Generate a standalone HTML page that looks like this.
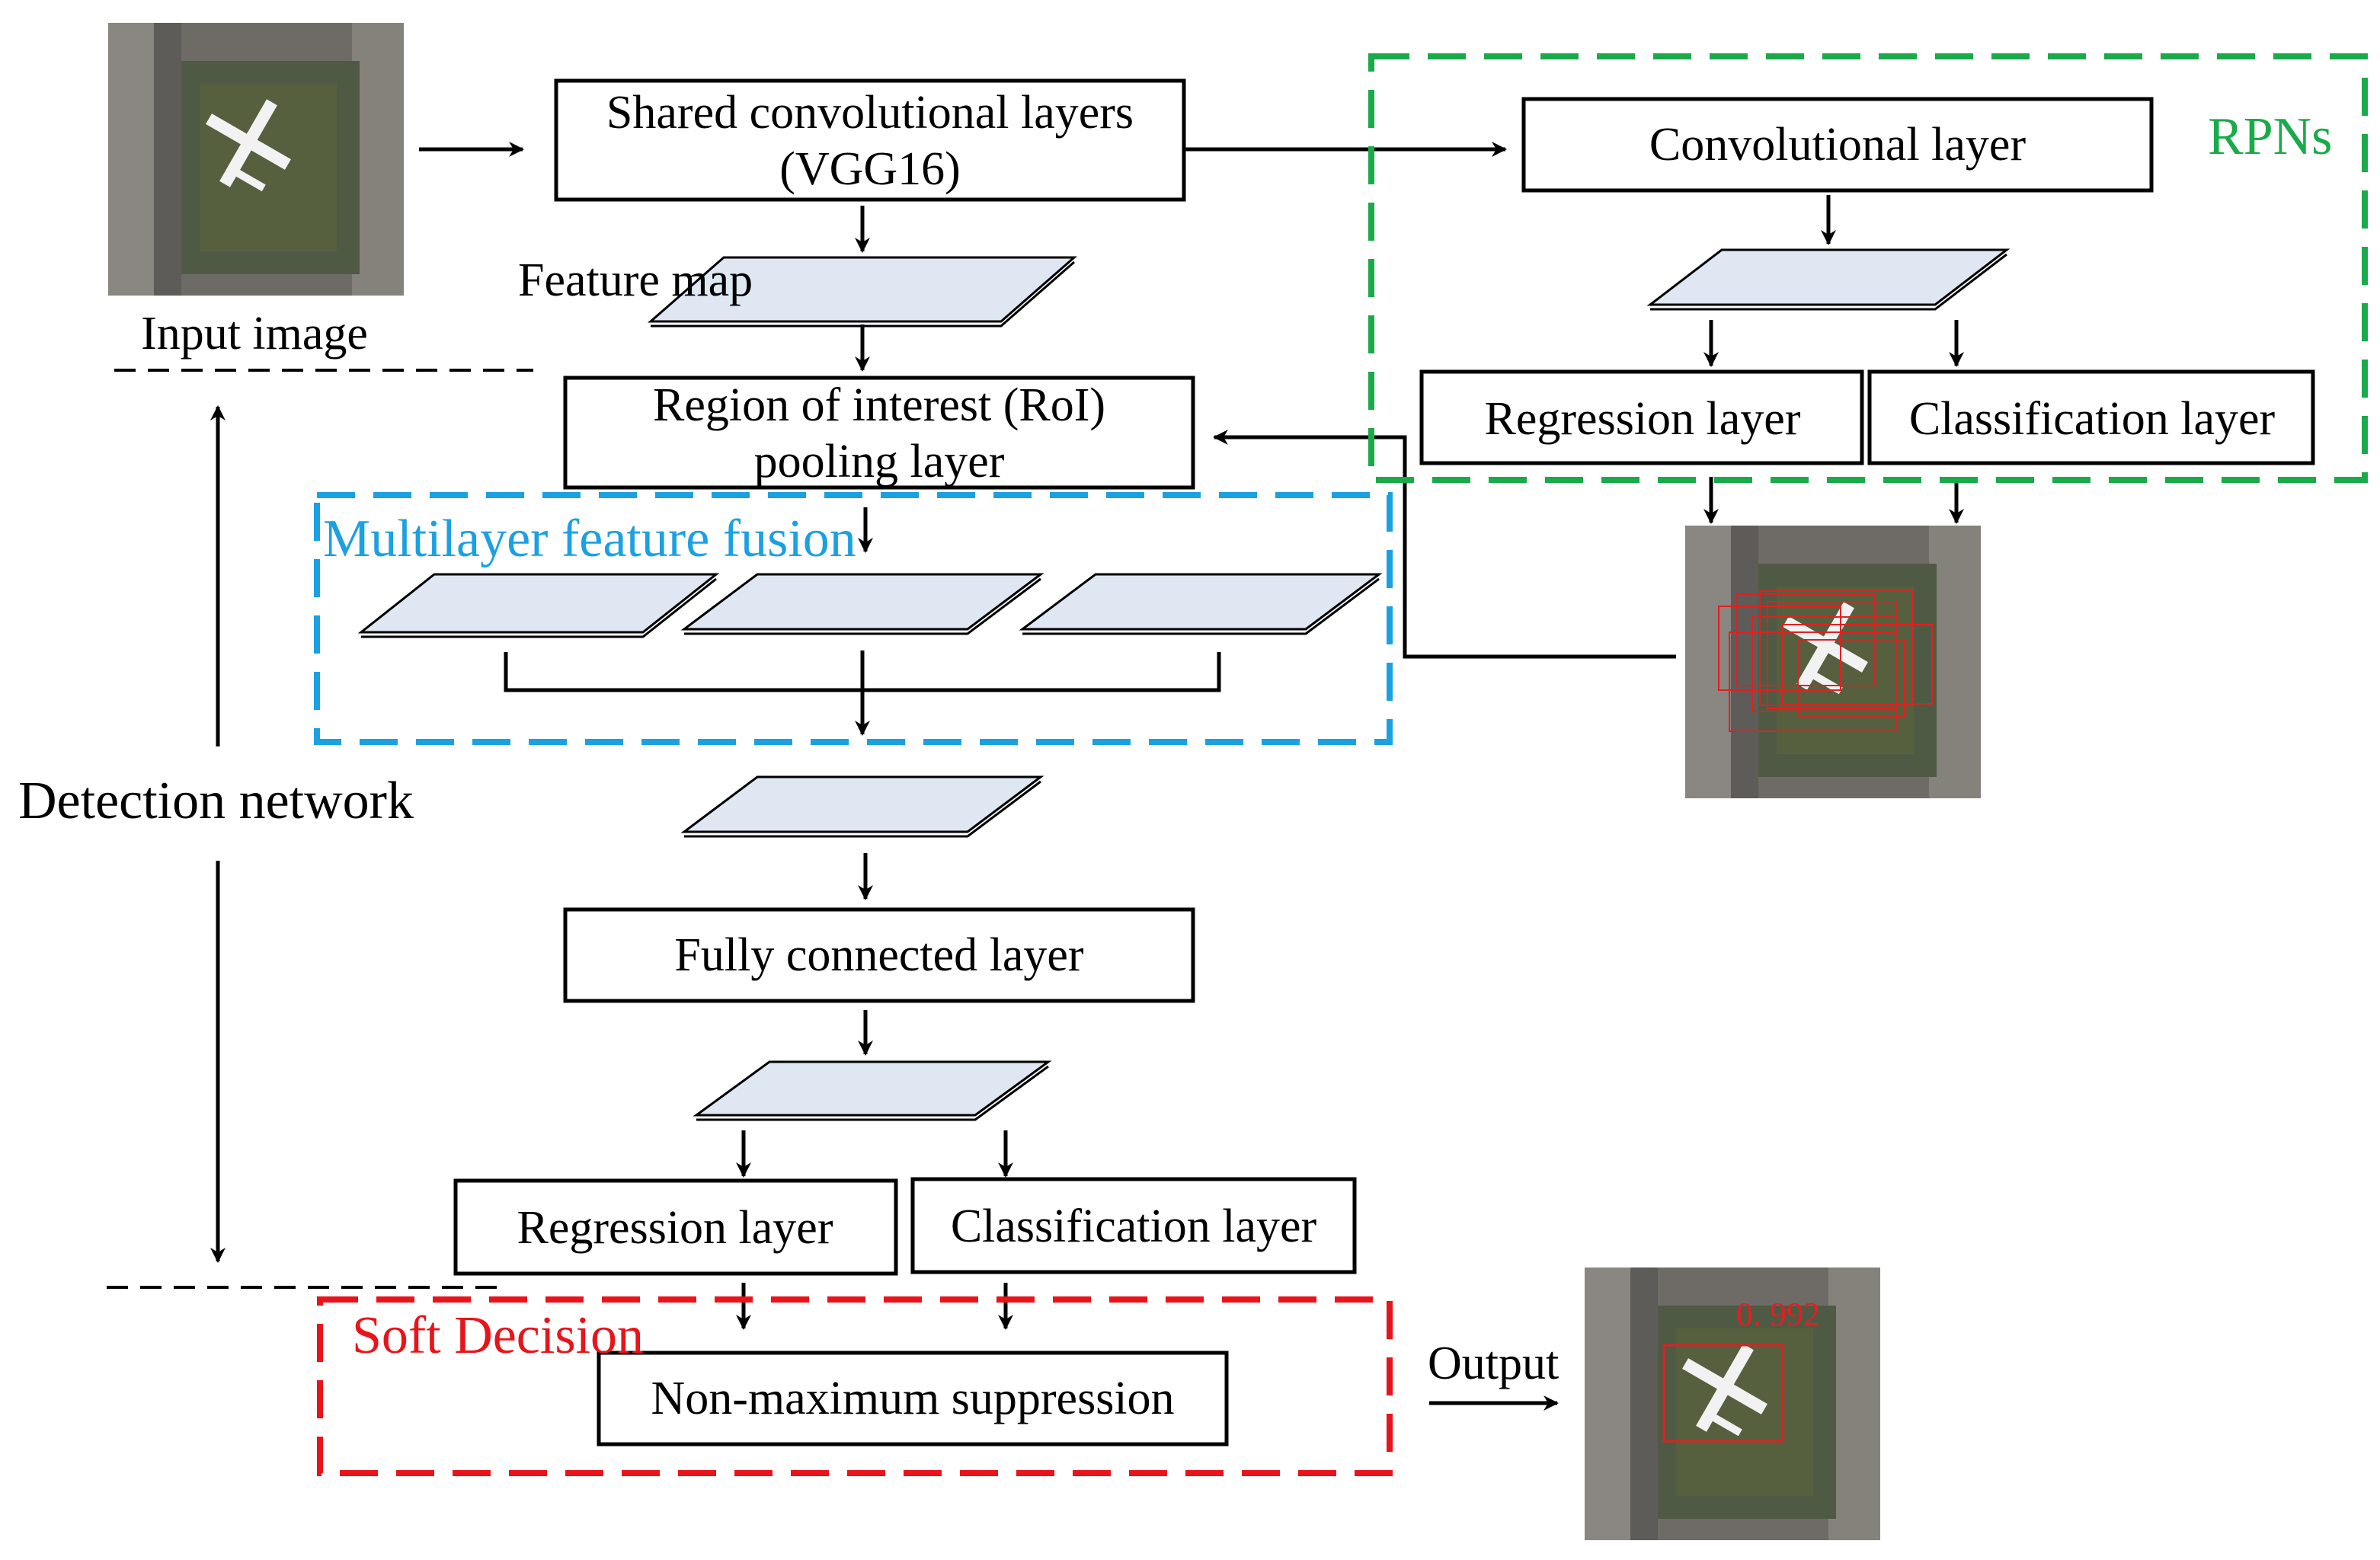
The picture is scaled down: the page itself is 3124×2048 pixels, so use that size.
<!DOCTYPE html>
<html><head><meta charset="utf-8"><style>
html,body{margin:0;padding:0;background:#fff;}
svg{display:block;}
text{font-family:"Liberation Serif",serif;}
</style></head><body>
<svg width="3124" height="2048" viewBox="0 0 1562 1024" xmlns="http://www.w3.org/2000/svg">
<defs>
<marker id="ah" markerWidth="10" markerHeight="10" refX="9" refY="5" orient="auto" markerUnits="userSpaceOnUse">
<path d="M0,0 L10,5 L0,10 L3,5 z" fill="#000"/></marker>
<g id="photo">
<rect x="0" y="0" width="194" height="179" fill="#6e6b66"/>
<rect x="0" y="0" width="30" height="179" fill="#8a8782"/>
<rect x="160" y="0" width="34" height="179" fill="#85827c"/>
<rect x="45" y="25" width="120" height="140" fill="#4f5a44"/>
<rect x="60" y="40" width="90" height="110" fill="#56603f"/>
<rect x="30" y="0" width="18" height="179" fill="#5e5c58"/>
<g fill="#f2f2f2"><rect x="88" y="48" width="8" height="62" transform="rotate(30 92 79)"/>
<rect x="62" y="74" width="60" height="8" transform="rotate(30 92 78)"/>
<rect x="80" y="100" width="24" height="5" transform="rotate(30 92 102)"/></g>
</g>
</defs>
<rect width="1562" height="1024" fill="#fff"/>
<use href="#photo" x="71" y="15"/>
<text x="167" y="229" font-size="31" text-anchor="middle">Input image</text>
<g stroke="#000" stroke-width="2.5" fill="none">
<line x1="275" y1="98" x2="343" y2="98" marker-end="url(#ah)"/>
<rect x="365" y="53" width="412" height="78"/>
<line x1="777" y1="98" x2="988" y2="98" marker-end="url(#ah)"/>
<rect x="1000" y="65" width="412" height="60"/>
<line x1="1200" y1="128" x2="1200" y2="160" marker-end="url(#ah)"/>
<line x1="1123" y1="210" x2="1123" y2="240" marker-end="url(#ah)"/>
<line x1="1284" y1="210" x2="1284" y2="240" marker-end="url(#ah)"/>
<rect x="933" y="244" width="289" height="60"/>
<rect x="1227" y="244" width="291" height="60"/>
<line x1="1123" y1="313" x2="1123" y2="343" marker-end="url(#ah)"/>
<line x1="1284" y1="313" x2="1284" y2="343" marker-end="url(#ah)"/>
<polyline points="1100,431 922,431 922,287 797,287" marker-end="url(#ah)"/>
<line x1="566" y1="135" x2="566" y2="165" marker-end="url(#ah)"/>
<line x1="566" y1="213" x2="566" y2="243" marker-end="url(#ah)"/>
<rect x="371" y="248" width="412" height="72"/>
<line x1="568" y1="333" x2="568" y2="362" marker-end="url(#ah)"/>
<polyline points="332,428 332,453 800,453 800,428"/>
<line x1="566" y1="427" x2="566" y2="482" marker-end="url(#ah)"/>
<line x1="568" y1="560" x2="568" y2="590" marker-end="url(#ah)"/>
<rect x="371" y="597" width="412" height="60"/>
<line x1="568" y1="663" x2="568" y2="692" marker-end="url(#ah)"/>
<line x1="488" y1="742" x2="488" y2="772" marker-end="url(#ah)"/>
<line x1="660" y1="742" x2="660" y2="772" marker-end="url(#ah)"/>
<rect x="299" y="775" width="289" height="61"/>
<rect x="599" y="774" width="290" height="61"/>
<line x1="488" y1="842" x2="488" y2="872" marker-end="url(#ah)"/>
<line x1="660" y1="842" x2="660" y2="872" marker-end="url(#ah)"/>
<rect x="393" y="888" width="412" height="60"/>
<line x1="938" y1="921" x2="1022" y2="921" marker-end="url(#ah)"/>
<line x1="143" y1="490" x2="143" y2="267" marker-end="url(#ah)"/>
<line x1="143" y1="565" x2="143" y2="828" marker-end="url(#ah)"/>
</g>
<g stroke="#000" stroke-width="2" stroke-dasharray="14,8">
<line x1="75" y1="243" x2="350" y2="243"/>
<line x1="70" y1="845" x2="330" y2="845"/>
</g>
<g fill="#dfe7f3" stroke="#000" stroke-width="1.5">
<polygon points="1130,164 1317,164 1270,200 1083,200"/>
<polygon points="475,169 705,169 657,211 427,211"/>
<polygon points="285,377 470,377 422,415 237,415"/>
<polygon points="497,377 683,377 635,413 449,413"/>
<polygon points="719,377 905,377 857,413 671,413"/>
<polygon points="497,510 683,510 635,546 449,546"/>
<polygon points="505,697 688,697 640,732 457,732"/>
</g>
<g fill="none" stroke="#000" stroke-width="1.5">
<polyline points="1083,203 1270,203 1317,167"/>
<polyline points="427,214 657,214 705,172"/>
<polyline points="237,418 422,418 470,380"/>
<polyline points="449,416 635,416 683,380"/>
<polyline points="671,416 857,416 905,380"/>
<polyline points="449,549 635,549 683,513"/>
<polyline points="457,735 640,735 688,700"/>
</g>
<rect x="900" y="37" width="652" height="278" fill="none" stroke="#1aaa4a" stroke-width="4" stroke-dasharray="25,12"/>
<rect x="208" y="325" width="704" height="162" fill="none" stroke="#1ba1e2" stroke-width="4" stroke-dasharray="25,12"/>
<rect x="210" y="853" width="702" height="114" fill="none" stroke="#e8141b" stroke-width="4" stroke-dasharray="25,12"/>
<use href="#photo" x="1106" y="345"/>
<g fill="none" stroke="#e02020" stroke-width="1">
<rect x="1128" y="398" width="80" height="55"/><rect x="1140" y="390" width="90" height="60"/>
<rect x="1150" y="405" width="95" height="62"/><rect x="1160" y="395" width="85" height="70"/>
<rect x="1170" y="410" width="98" height="52"/><rect x="1135" y="415" width="110" height="65"/>
<rect x="1155" y="388" width="100" height="75"/><rect x="1180" y="420" width="70" height="50"/>
</g>
<use href="#photo" x="1040" y="832"/>
<rect x="1092" y="883" width="78" height="63" fill="none" stroke="#e02020" stroke-width="1.5"/>
<text x="1167" y="870" font-size="22" fill="#e02020" text-anchor="middle">0. 992</text>
<g font-size="31" text-anchor="middle">
<text x="571" y="84">Shared convolutional layers</text>
<text x="571" y="121">(VGG16)</text>
<text x="1206" y="105">Convolutional layer</text>
<text x="1078" y="285">Regression layer</text>
<text x="1373" y="285">Classification layer</text>
<text x="577" y="276">Region of interest (RoI)</text>
<text x="577" y="313">pooling layer</text>
<text x="577" y="637">Fully connected layer</text>
<text x="443" y="816">Regression layer</text>
<text x="744" y="815">Classification layer</text>
<text x="599" y="928">Non-maximum suppression</text>
</g>
<text x="340" y="194" font-size="31">Feature map</text>
<text x="937" y="905" font-size="31">Output</text>
<text x="12" y="537" font-size="35">Detection network</text>
<text x="1449" y="101" font-size="35" fill="#1aaa4a">RPNs</text>
<text x="212" y="365" font-size="35" fill="#1ba1e2">Multilayer feature fusion</text>
<text x="231" y="888" font-size="35" fill="#e8141b">Soft Decision</text>
</svg>
</body></html>
